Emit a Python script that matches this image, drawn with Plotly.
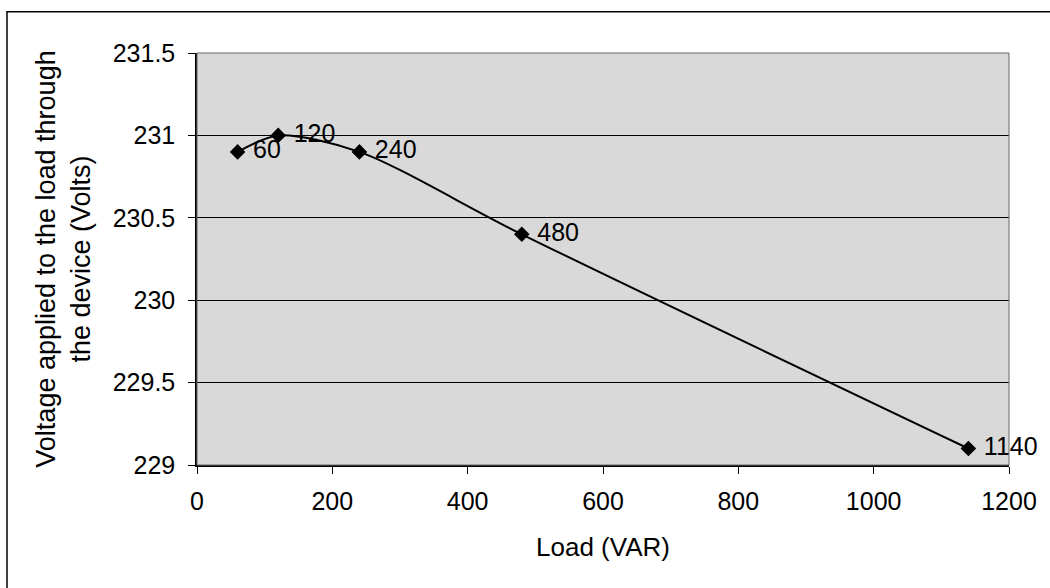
import plotly.graph_objects as go

load_var = [60, 120, 240, 480, 1140]
voltage = [230.9, 231.0, 230.9, 230.4, 229.1]
labels = [" " + str(v) for v in load_var]

fig = go.Figure()
fig.add_trace(go.Scatter(
    x=load_var, y=voltage, mode="lines+markers+text",
    line=dict(color="black", width=2, shape="spline", smoothing=0.8),
    marker=dict(symbol="diamond", size=12, color="black"),
    text=labels, textposition="middle right",
    textfont=dict(family="Liberation Sans, Arial", size=25, color="black"),
    cliponaxis=False, showlegend=False,
))

fig.update_layout(
    width=1050, height=588,
    margin=dict(l=197, r=41, t=53, b=123),
    paper_bgcolor="white", plot_bgcolor="#d9d9d9",
    font=dict(family="Liberation Sans, Arial", size=25, color="black"),
    xaxis=dict(range=[0, 1200], dtick=200, showgrid=False, zeroline=False,
               showline=True, linecolor="black", linewidth=1.5, mirror=False,
               ticks="outside", ticklen=7, tickcolor="black",
               tickfont=dict(size=25), ticklabelstandoff=6,
               title=dict(text="Load (VAR)", font=dict(size=26), standoff=24)),
    yaxis=dict(range=[229, 231.5], dtick=0.5, showgrid=True, gridcolor="black", gridwidth=1,
               zeroline=False, showline=True, linecolor="black", linewidth=1.5,
               ticks="outside", ticklen=7, tickcolor="black",
               tickfont=dict(size=25), ticklabelstandoff=8,
               title=dict(text="Voltage applied to the load through<br>the device (Volts)",
                          font=dict(size=27), standoff=14)),
    shapes=[
        dict(type="rect", xref="paper", yref="paper", x0=0, x1=1, y0=0, y1=1,
             line=dict(color="#666666", width=1)),
        dict(type="rect", xref="paper", yref="paper", x0=-0.234, x1=1.1, y0=-0.4, y1=1.1,
             line=dict(color="black", width=1.5)),
    ],
)

fig.write_html("out.html")
